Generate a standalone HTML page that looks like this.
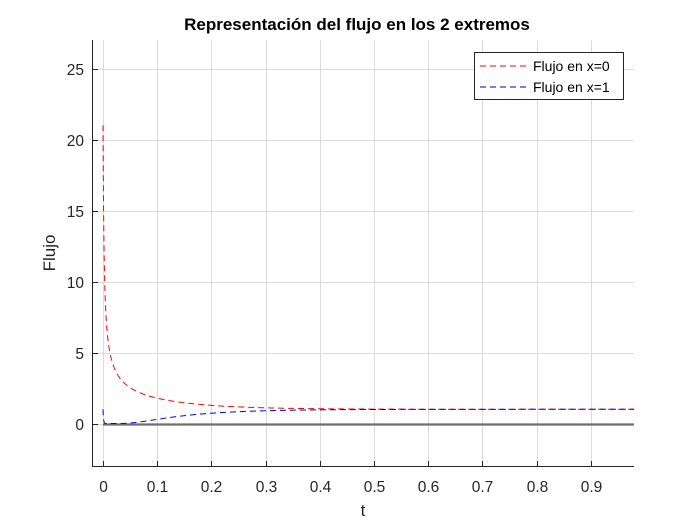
<!DOCTYPE html>
<html><head><meta charset="utf-8"><style>
html,body{margin:0;padding:0;background:#fff;}
svg{display:block;font-family:"Liberation Sans",Arial,sans-serif;}
</style></head><body>
<svg id="s" width="700" height="525" viewBox="0 0 700 525" xmlns="http://www.w3.org/2000/svg">
<rect width="700" height="525" fill="#fff"/>
<g id="grid" stroke="#dcdcdc" stroke-width="1"></g>
<line x1="103" y1="424.5" x2="634" y2="424.5" stroke="#6e6e6e" stroke-width="2.2"/>
<path id="red" fill="none" stroke="#ff0000" stroke-width="1" stroke-dasharray="6,4"/>
<path id="blue" fill="none" stroke="#0000ff" stroke-width="1" stroke-dasharray="6,4"/>
<g stroke="#262626" stroke-width="1">
<line x1="92.5" y1="40" x2="92.5" y2="466.5"/>
<line x1="92" y1="466.5" x2="634" y2="466.5"/>
</g>
<g id="ticks" stroke="#262626" stroke-width="1"></g>
<g id="labels" fill="#262626" font-size="15.5"></g>
<text x="357" y="30" text-anchor="middle" font-weight="bold" font-size="17" fill="#000">Representación del flujo en los 2 extremos</text>
<text x="363" y="516" text-anchor="middle" font-size="17" fill="#262626">t</text>
<text transform="translate(55,253) rotate(-90)" text-anchor="middle" font-size="17" fill="#262626">Flujo</text>
<rect x="474.5" y="52.5" width="149" height="47" fill="#fff" stroke="#262626" stroke-width="1"/>
<line x1="480" y1="66" x2="529" y2="66" stroke="#ff0000" stroke-dasharray="6,4"/>
<line x1="480" y1="87" x2="529" y2="87" stroke="#0000aa" stroke-dasharray="6,4"/>
<text x="533" y="71" font-size="14" fill="#000">Flujo en x=0</text>
<text x="533" y="92" font-size="14" fill="#000">Flujo en x=1</text>
</svg>
<script>
var X=function(t){return 103+t*542;}, Y=function(v){return 423.5-v*14.2;};
var ns="http://www.w3.org/2000/svg";
function el(p,n,a,txt){var e=document.createElementNS(ns,n);for(var k in a)e.setAttribute(k,a[k]);if(txt!=null)e.textContent=txt;document.getElementById(p).appendChild(e);}
for(var i=0;i<=9;i++){var x=Math.round(X(i/10))+0.5;
 el('grid','line',{x1:x,y1:40,x2:x,y2:466});
 el('ticks','line',{x1:x,y1:466,x2:x,y2:461});
 el('labels','text',{x:x,y:492,'text-anchor':'middle'},i==0?'0':'0.'+i);}
for(var v=0;v<=25;v+=5){var y=Math.round(Y(v))+0.5;
 el('grid','line',{x1:93,y1:y,x2:634,y2:y});
 el('ticks','line',{x1:93,y1:y,x2:98,y2:y});
 el('labels','text',{x:84,y:y+5.5,'text-anchor':'end'},''+v);}
var r='',b='';
for(var k=0;k<=1200;k++){var t=0.98*Math.pow(k/1200,2);
 var f0=1,f1=1;for(var n=1;n<=10;n++){var e=Math.exp(-n*n*Math.PI*Math.PI*t);f0+=2*e;f1+=2*(n%2?-1:1)*e;}
 r+=(k?'L':'M')+X(t).toFixed(2)+' '+Y(f0).toFixed(2);
 b+=(k?'L':'M')+X(t).toFixed(2)+' '+Y(f1).toFixed(2);}
document.getElementById('red').setAttribute('d',r);
document.getElementById('blue').setAttribute('d',b);
</script>
</body></html>
